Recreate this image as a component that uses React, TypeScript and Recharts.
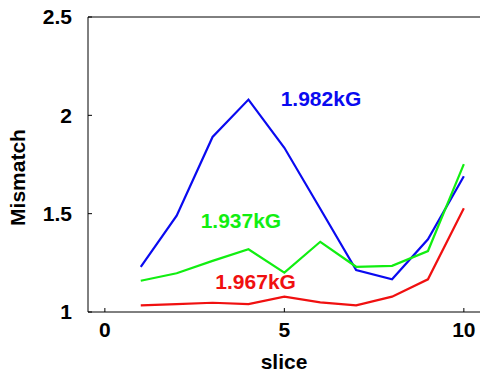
import React from 'react';
import { LineChart, Line, XAxis, YAxis, ReferenceLine, ReferenceDot } from 'recharts';

const slices = [1, 2, 3, 4, 5, 6, 7, 8, 9, 10];
const blue1982 = [1.23, 1.49, 1.89, 2.08, 1.835, 1.525, 1.213, 1.166, 1.37, 1.69];
const green1937 = [1.159, 1.197, 1.26, 1.319, 1.2, 1.357, 1.23, 1.235, 1.31, 1.752];
const red1967 = [1.034, 1.04, 1.047, 1.04, 1.078, 1.049, 1.034, 1.078, 1.166, 1.527];
const xTicks = [0, 5, 10];
const yTicks = [1, 1.5, 2, 2.5];

const data = slices.map((s, i) => ({
  slice: s,
  b: blue1982[i],
  g: green1937[i],
  r: red1967[i],
}));

const FONT = '"Liberation Sans", Arial, sans-serif';
const tickStyle = { fontSize: 21, fontWeight: 700, fill: '#000', fontFamily: FONT };

const App: React.FC = () => {
  return (
    <div style={{ position: 'absolute', left: 0, top: 0, width: 480, height: 373, background: '#fff' }}>
      <LineChart width={480} height={373} data={data} margin={{ top: 17, right: 0, left: 0, bottom: 0 }}>
        <XAxis
          dataKey="slice"
          type="number"
          domain={[-0.47, 10.45]}
          ticks={xTicks}
          height={61}
          stroke="#000"
          tickSize={-4}
          tickMargin={14}
          tick={tickStyle}
          allowDataOverflow
          label={{ value: 'slice', position: 'insideBottom', offset: 4, style: tickStyle }}
        />
        <YAxis
          type="number"
          domain={[1, 2.5]}
          ticks={yTicks}
          width={88}
          stroke="#000"
          tickSize={-4}
          tickMargin={20}
          tick={tickStyle}
          tickFormatter={(v) => String(v)}
          label={{ value: 'Mismatch', angle: -90, position: 'insideLeft', offset: 18, dy: 13, style: { ...tickStyle, textAnchor: 'middle' } }}
        />
        <ReferenceLine y={2.5} stroke="#000" />
        <Line type="linear" dataKey="b" stroke="#0a0af0" strokeWidth={2.2} dot={false} isAnimationActive={false} />
        <Line type="linear" dataKey="g" stroke="#11ee11" strokeWidth={2.2} dot={false} isAnimationActive={false} />
        <Line type="linear" dataKey="r" stroke="#f01010" strokeWidth={2.2} dot={false} isAnimationActive={false} />
        <ReferenceDot x={6.02} y={2.083} r={0} fill="none" stroke="none"
          label={{ value: '1.982kG', position: 'center', style: { ...tickStyle, fill: '#0a0af0' } }} />
        <ReferenceDot x={3.79} y={1.463} r={0} fill="none" stroke="none"
          label={{ value: '1.937kG', position: 'center', style: { ...tickStyle, fill: '#11ee11' } }} />
        <ReferenceDot x={4.2} y={1.153} r={0} fill="none" stroke="none"
          label={{ value: '1.967kG', position: 'center', style: { ...tickStyle, fill: '#f01010' } }} />
      </LineChart>
    </div>
  );
};

export default App;
